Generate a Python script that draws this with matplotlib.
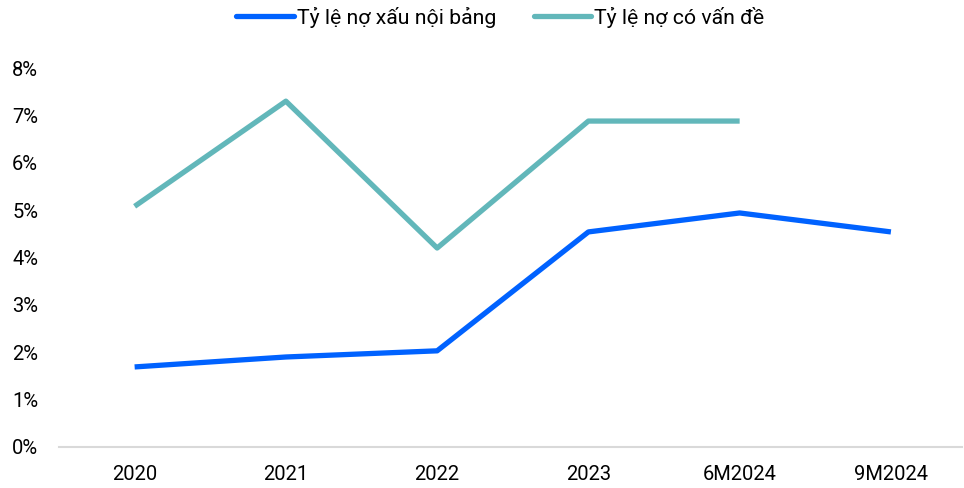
import matplotlib
matplotlib.use("Agg")
import matplotlib.pyplot as plt
import numpy as np

plt.rcParams['font.family'] = ['Roboto', 'DejaVu Sans']

categories = ["2020", "2021", "2022", "2023", "6M2024", "9M2024"]
npl_on_balance = [1.69, 1.90, 2.03, 4.54, 4.94, 4.54]
problem_debt = [5.08, 7.30, 4.20, 6.88, 6.88, np.nan]
series_names = ["Tỷ lệ nợ xấu nội bảng", "Tỷ lệ nợ có vấn đề"]
yticks = [0, 1, 2, 3, 4, 5, 6, 7, 8]

fig = plt.figure(figsize=(9.64, 4.88), dpi=100)
ax = fig.add_axes([59/964, 1-447/488, (962-59)/964, (447-68)/488])

x = np.arange(len(categories))
ax.plot(x, npl_on_balance, color="#0062FF", lw=3.8, label=series_names[0], solid_capstyle="butt")
ax.plot(x, problem_debt, color="#62B7BA", lw=3.8, label=series_names[1], solid_capstyle="butt")

ax.set_xlim(-0.5, 5.47)
ax.set_ylim(0, 8)
ax.set_yticks(yticks)
ax.set_yticklabels([f"{v}%" for v in yticks])
ax.set_xticks(x)
ax.set_xticklabels(categories)
for s in ["top", "right", "left"]:
    ax.spines[s].set_visible(False)
ax.spines["bottom"].set_color("#D9D9D9")
ax.spines["bottom"].set_linewidth(1.5)
ax.tick_params(axis="both", length=0, labelsize=14.5, colors="#000000")
ax.tick_params(axis="y", pad=15)
ax.tick_params(axis="x", pad=13)

leg = fig.legend(loc="center", bbox_to_anchor=(0.519, 1-17/488), ncol=2, frameon=False,
                 fontsize=15.3, handlelength=2.7, handletextpad=0.15, columnspacing=1.75,
                 borderpad=0, borderaxespad=0)
for h in leg.legend_handles:
    h.set_solid_capstyle("round")

fig.savefig("out.png", dpi=100)
